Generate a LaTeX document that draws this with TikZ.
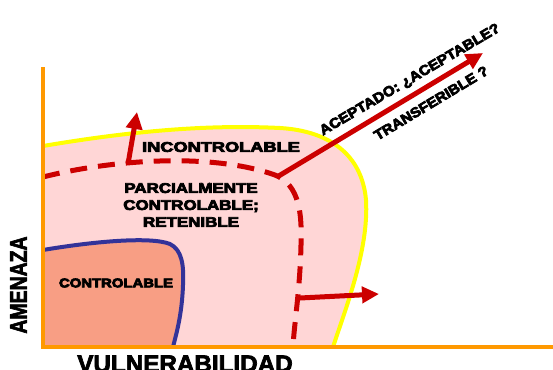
\documentclass[tikz,border=0pt]{standalone}
\usepackage{fontspec}
\setmainfont{Liberation Sans}
\usepackage{graphicx}
\usetikzlibrary{arrows.meta}
\definecolor{axisor}{HTML}{FF9900}
\definecolor{risk}{HTML}{CC0000}
\definecolor{pinkf}{HTML}{FFD6D6}
\definecolor{salmonf}{HTML}{F89E84}
\definecolor{navyb}{HTML}{333399}
\definecolor{yel}{HTML}{FFFF00}
\newcommand{\sx}[2]{\scalebox{#1}[1]{\special{pdf:literal direct 2 Tr 0.7 w}#2\special{pdf:literal direct 0 Tr}}}
\begin{document}
\begin{tikzpicture}[x=1pt,y=-1pt,
  axisline/.style={draw=axisor,line width=4pt},
  redarrow/.style={draw=risk,line width=5pt,-{Triangle[length=17pt,width=16pt]}},
  lbl/.style={font=\bfseries, inner sep=0pt},
  border/.style={line width=4pt},
 ]
 \useasboundingbox (0,0) rectangle (553,369);
 \clip (0,0) rectangle (553,369);
 \fill[white] (0,0) rectangle (553,369);
 % regions
 \fill[pinkf] (43,146) .. controls (120,133) and (200,124) .. (280,128)
   .. controls (330,131) and (362,155) .. (366,200)
   .. controls (369,250) and (345,310) .. (333,347) -- (43,347) -- cycle;
 \fill[salmonf] (43,250) .. controls (90,242) and (150,236) .. (170,244)
   .. controls (182,250) and (184,265) .. (183,285)
   .. controls (182,315) and (176,335) .. (173,347) -- (43,347) -- cycle;
 % boundaries
 \draw[border,yel] (43,146) .. controls (120,133) and (200,124) .. (280,128)
   .. controls (330,131) and (362,155) .. (366,200)
   .. controls (369,250) and (345,310) .. (333,347);
 \draw[border,navyb] (43,250) .. controls (90,242) and (150,236) .. (170,244)
   .. controls (182,250) and (184,265) .. (183,285)
   .. controls (182,315) and (176,335) .. (173,347);
 \draw[risk,line width=5pt,dash pattern=on 17pt off 11pt]
   (43,177) .. controls (110,160) and (210,152) .. (275,175)
   .. controls (300,185) and (302,215) .. (301,245)
   .. controls (300,290) and (294,325) .. (293,347);
 % axes
 \coordinate (ytop) at (43,67);
 \coordinate (origin) at (43,347);
 \coordinate (xend) at (553,347);
 \draw[axisline] (ytop) -- (origin) -- (xend);
 % arrows
 \coordinate (upS) at (128,164);
 \coordinate (upE) at (137,112);
 \coordinate (dgS) at (277,177);
 \coordinate (dgE) at (483,53);
 \coordinate (rtS) at (300,298);
 \coordinate (rtE) at (379,294);
 \draw[redarrow] (upS) -- (upE);
 \draw[redarrow] (dgS) -- (dgE);
 \draw[redarrow] (rtS) -- (rtE);
 % labels
 \node[lbl,font=\bfseries\fontsize{14}{16}\selectfont] (incontrol) at (221,147) {\sx{1.3}{INCONTROLABLE}};
 \node[lbl,font=\bfseries\fontsize{14}{17}\selectfont,align=center] (parcial) at (191,205)
   {\sx{1.21}{PARCIALMENTE}\\\sx{1.21}{CONTROLABLE;}\\\sx{1.21}{RETENIBLE}};
 \node[lbl,font=\bfseries\fontsize{12.6}{14}\selectfont] (control) at (116,283) {\sx{1.18}{CONTROLABLE}};
 \node[lbl,font=\bfseries\fontsize{24}{26}\selectfont,rotate=90] (amenaza) at (18.5,285) {\sx{0.81}{AMENAZA}};
 \node[lbl,font=\bfseries\fontsize{24}{26}\selectfont,anchor=base] (vulner) at (185,372) {\sx{1.01}{VULNERABILIDAD}};
 \node[lbl,font=\bfseries\fontsize{14}{16}\selectfont,rotate=30.5] (acept) at (410,80) {\sx{1.1}{ACEPTADO: ¿ACEPTABLE?}};
 \node[lbl,font=\bfseries\fontsize{14}{16}\selectfont,rotate=31] (transf) at (431,103) {\sx{1.08}{TRANSFERIBLE ?}};
\end{tikzpicture}
\end{document}
